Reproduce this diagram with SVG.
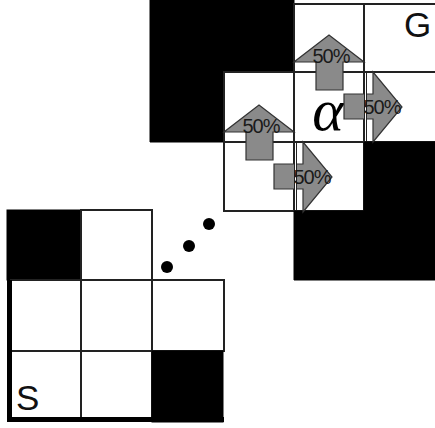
<svg xmlns="http://www.w3.org/2000/svg" width="435" height="428" viewBox="0 0 435 428">
<style>
.w{fill:#fff;stroke:#222;stroke-width:2}
.b{fill:#000;stroke:#000;stroke-width:1}
.arrow{fill:#8a8a8a;stroke:#333;stroke-width:1.2;stroke-linejoin:miter}
.pct{font-family:"Liberation Sans",Arial,sans-serif;font-size:20px;fill:#1a1a1a;text-anchor:middle;letter-spacing:-1px}
.lbl{font-family:"Liberation Sans",Arial,sans-serif;font-size:35px;fill:#111}
.dot{fill:#000}
.ov{stroke:#222;stroke-width:3}
.ovw{stroke:#fff;stroke-width:1}
</style>
<rect width="435" height="428" fill="#fff"/>
<!-- upper grid -->
<g id="upper-black-left"><path class="b" d="M150,0H294V72H224V142H150Z"/></g>
<g id="u-r0c2"><rect class="w" x="294" y="4" width="70" height="68"/></g>
<g id="u-r0c3"><rect class="w" x="364" y="4" width="72" height="68"/><text class="lbl" x="404" y="37">G</text></g>
<g id="u-r1c1"><rect class="w" x="224" y="72" width="70" height="70"/></g>
<g id="u-r1c2"><rect class="w" x="294" y="72" width="70" height="70"/><text x="328" y="130" font-family="'Liberation Serif','Times New Roman',serif" font-style="italic" font-size="60" text-anchor="middle" fill="#000">α</text></g>
<g id="u-r1c3"><rect class="w" x="364" y="72" width="72" height="70"/></g>
<g id="u-r2c1"><rect class="w" x="224" y="142" width="70" height="69"/></g>
<g id="u-r2c2"><rect class="w" x="294" y="142" width="70" height="69"/></g>
<g id="upper-black-right"><path class="b" d="M364,142H435V280H294V211H364Z"/></g>
<!-- lower grid -->
<g id="l-r0c0"><rect class="b" x="7" y="210" width="74" height="70"/></g>
<g id="l-r0c1"><rect class="w" x="81" y="210" width="71" height="70"/></g>
<g id="l-r1c0"><rect class="w" x="11" y="280" width="70" height="71"/></g>
<g id="l-r1c1"><rect class="w" x="81" y="280" width="71" height="71"/></g>
<g id="l-r1c2"><rect class="w" x="152" y="280" width="72" height="71"/></g>
<g id="l-r2c0"><rect class="w" x="11" y="351" width="70" height="68"/><text class="lbl" x="16" y="410">S</text></g>
<g id="l-r2c1"><rect class="w" x="81" y="351" width="71" height="68"/></g>
<g id="l-r2c2"><rect class="b" x="152" y="351" width="71" height="71"/></g>
<g id="l-border"><path d="M9.5,280V419.5H224" fill="none" stroke="#000" stroke-width="5"/></g>
<!-- ellipsis -->
<g id="dots"><circle class="dot" cx="167" cy="267" r="6"/><circle class="dot" cx="189" cy="246" r="6"/><circle class="dot" cx="209" cy="224" r="6"/></g>
<!-- connectors -->
<g id="connectors">
<polygon class="arrow" points="316,90 316,62 294,62 329,35 364,62 343,62 343,90"/>
<text class="pct" x="331" y="63">50%</text>
<polygon class="arrow" points="246,160 246,132 224,132 259,105 294,132 273,132 273,160"/>
<text class="pct" x="261" y="133">50%</text>
<polygon class="arrow" points="344,94 373,94 373,72 402,107 373,142 373,119 344,119"/>
<line class="ov" x1="365.5" y1="73" x2="365.5" y2="141"/>
<line class="ovw" x1="365.5" y1="73" x2="365.5" y2="141"/>
<text class="pct" x="382" y="114">50%</text>
<polygon class="arrow" points="274,164 303,164 303,142 332,177 303,212 303,189 274,189"/>
<line class="ov" x1="295.5" y1="143" x2="295.5" y2="210"/>
<line class="ovw" x1="295.5" y1="143" x2="295.5" y2="210"/>
<text class="pct" x="312" y="184">50%</text>
</g>
</svg>
